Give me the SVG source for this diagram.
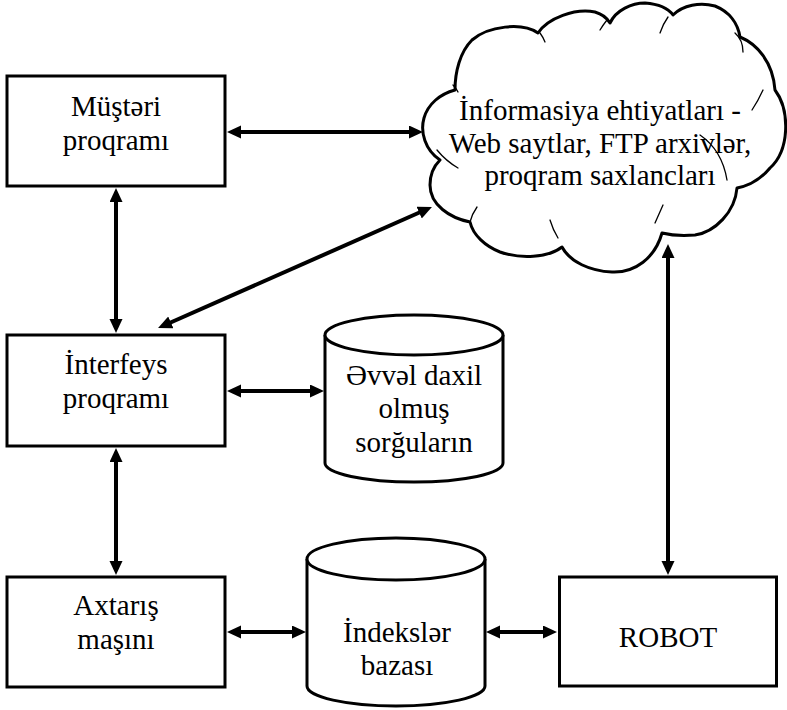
<svg xmlns="http://www.w3.org/2000/svg" width="787" height="710" viewBox="0 0 787 710">
  <style>
    .box { fill: #fff; stroke: #000; stroke-width: 3; }
    .shape { fill: #fff; stroke: #000; stroke-width: 3; stroke-linejoin: round; }
    .crease { fill: none; stroke: #000; stroke-width: 1.3; stroke-linecap: round; }
    .lbl { font-size: 29px; fill: #000; text-anchor: middle; }
    .link { stroke: #000; stroke-width: 4; fill: none; marker-start: url(#head); marker-end: url(#head); }
  </style>
  <defs>
    <marker id="head" markerUnits="userSpaceOnUse" markerWidth="14" markerHeight="14" refX="4" refY="6.5" orient="auto-start-reverse">
      <path d="M0,0 L14,6.5 L0,13 Z" fill="#000"/>
    </marker>
  </defs>
  <rect width="787" height="710" fill="#fff"/>

  <g font-family="Liberation Serif, Tinos, Times New Roman, DejaVu Serif, serif">
  <!-- Client program -->
  <g id="musteri">
    <rect class="box" x="7" y="76" width="218" height="110"/>
    <text class="lbl" x="116" y="116">Müştəri</text>
    <text class="lbl" x="116" y="150">proqramı</text>
  </g>

  <!-- Interface program -->
  <g id="interfeys">
    <rect class="box" x="7" y="335" width="218" height="111"/>
    <text class="lbl" x="116" y="374">İnterfeys</text>
    <text class="lbl" x="116" y="408">proqramı</text>
  </g>

  <!-- Search engine -->
  <g id="axtaris">
    <rect class="box" x="7" y="577" width="218" height="110"/>
    <text class="lbl" x="116" y="615">Axtarış</text>
    <text class="lbl" x="116" y="649">maşını</text>
  </g>

  <!-- Robot -->
  <g id="robot">
    <rect class="box" x="559.5" y="577" width="217" height="109"/>
    <text class="lbl" x="668" y="647">ROBOT</text>
  </g>

  <!-- Stored queries database -->
  <g id="sorgular">
    <path class="shape" d="M325,335 V463 A89,19 0 0,0 503,463 V335"/>
    <ellipse class="shape" cx="414" cy="335" rx="89" ry="20"/>
    <text class="lbl" x="414" y="385">Əvvəl daxil</text>
    <text class="lbl" x="414" y="418">olmuş</text>
    <text class="lbl" x="414" y="452">sorğuların</text>
  </g>

  <!-- Index database -->
  <g id="indeksler">
    <path class="shape" d="M307,559 V686 A89,20 0 0,0 485,686 V559"/>
    <ellipse class="shape" cx="396" cy="559" rx="89" ry="21"/>
    <text class="lbl" x="397" y="642">İndekslər</text>
    <text class="lbl" x="397" y="675">bazası</text>
  </g>

  <!-- Information resources cloud -->
  <g id="informasiya">
    <path class="shape" d="M455,90
      C455,72 460,52 472,40 C488,26 522,22 538,33
      C548,18 575,8 595,12 C602,14 607,18 610,23
      C616,10 632,3 645,3 C658,4 668,8 673,15
      C683,5 700,2 715,6 C730,12 738,24 740,37
      C757,44 773,62 775,90
      C790,110 790,150 770,168 C760,180 748,186 737,188
      C735,212 715,232 695,235 C683,236 670,235 662,233
      C655,258 635,273 612,272 C590,271 570,262 562,247
      C548,258 520,259 500,252 C485,246 473,235 470,222
      C450,218 430,205 430,185 C430,175 434,166 440,160
      C425,150 420,132 424,118 C428,104 440,94 455,90 Z"/>
    <path class="crease" d="M453,85 Q456,88 458,92"/>
    <path class="crease" d="M437,150 Q446,161 458,168"/>
    <path class="crease" d="M477,207 Q472,214 470,222"/>
    <path class="crease" d="M550,220 Q553,230 558,238"/>
    <path class="crease" d="M540,33 Q543,37 545,42"/>
    <path class="crease" d="M607,20 Q603,25 600,30"/>
    <path class="crease" d="M668,17 Q663,24 660,33"/>
    <path class="crease" d="M735,33 Q743,40 743,52"/>
    <path class="crease" d="M763,90 Q758,101 752,110"/>
    <path class="crease" d="M700,135 Q722,150 727,180"/>
    <path class="crease" d="M663,205 Q659,214 655,223"/>
    <text class="lbl" x="600" y="120">İnformasiya ehtiyatları -</text>
    <text class="lbl" x="600" y="153">Web saytlar, FTP arxivlər,</text>
    <text class="lbl" x="600" y="185">proqram saxlancları</text>
  </g>
  </g>

  <!-- Connectors (all bidirectional) -->
  <g id="connectors">
    <line class="link" x1="237" y1="132" x2="413" y2="132"/>
    <line class="link" x1="116" y1="198" x2="116" y2="323"/>
    <line class="link" x1="167.2" y1="324" x2="422.8" y2="211"/>
    <line class="link" x1="237" y1="391" x2="314" y2="391"/>
    <line class="link" x1="116" y1="458" x2="116" y2="565"/>
    <line class="link" x1="237" y1="632" x2="296" y2="632"/>
    <line class="link" x1="496" y1="632" x2="547" y2="632"/>
    <line class="link" x1="668" y1="254" x2="668" y2="565"/>
  </g>
</svg>
